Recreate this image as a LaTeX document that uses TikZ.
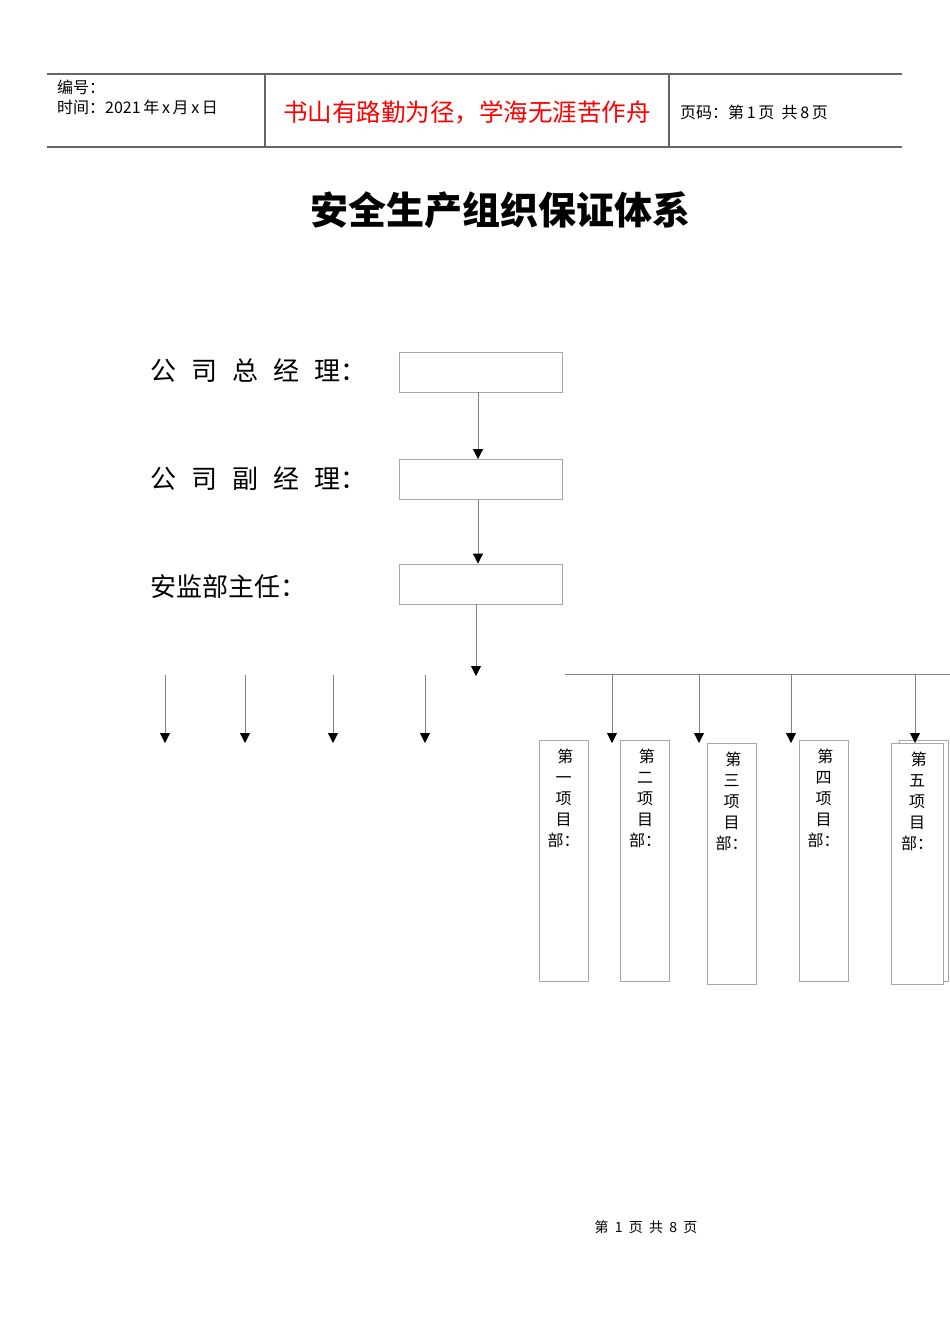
\documentclass[tikz,border=0pt]{standalone}
\usepackage{fontspec}
\setmainfont{Liberation Sans}
\newfontfamily\cjk{Noto Sans CJK SC}
\usetikzlibrary{positioning,arrows.meta}
\newcommand\gap{\hspace{15pt}}
\tikzset{
  rule/.style={draw=gray!80!black,line width=1.2pt},
  box/.style={draw=gray!70,line width=0.8pt,minimum width=163pt,minimum height=40pt,inner sep=0pt},
  pbox/.style={draw=gray!70,line width=0.8pt,fill=white,minimum width=49pt,minimum height=241pt,inner sep=0pt},
  lab/.style={anchor=west,font=\cjk\fontsize{26}{26}\selectfont,inner sep=0pt},
  vtext/.style={anchor=north,align=center,font=\cjk\fontsize{16}{21}\selectfont,inner sep=0pt},
  link/.style={draw=gray,line width=0.8pt},
  down/.style={link,-{Triangle[width=10pt,length=10pt,black]}}
}
\begin{document}
\begin{tikzpicture}[x=1pt,y=-1pt]
	\useasboundingbox (0,0) rectangle (950,1322);
	%header
	\draw[rule] (47,74)--(902,74);
	\draw[rule] (47,147)--(902,147);
	\draw[rule] (265,74)--(265,147);
	\draw[rule] (669,74)--(669,147);
	\node[anchor=west,font=\cjk\fontsize{16}{16}\selectfont,inner sep=0pt] (num) at (57,87) {编号：};
	\node[anchor=west,font=\cjk\fontsize{16}{16}\selectfont,inner sep=0pt] (time) at (57,107) {时间：2021\,年\,x\,月\,x\,日};
	\node[font=\cjk\fontsize{24.5}{24.5}\selectfont,text=red,inner sep=0pt] (motto) at (467,112) {书山有路勤为径，学海无涯苦作舟};
	\node[anchor=west,font=\cjk\fontsize{16}{16}\selectfont,inner sep=0pt] (page) at (680,112) {页码：第\,1\,页\ \ 共\,8\,页};
	
	%title
	\node[font=\cjk\bfseries\fontsize{38}{38}\selectfont,inner sep=0pt] (title) at (500,210) {安全生产组织保证体系};
	
	%levels
	\node[lab] (gm) at (150,371) {公\gap 司\gap 总\gap 经\gap 理：};
	\node[lab] (dgm) at (150,479) {公\gap 司\gap 副\gap 经\gap 理：};
	\node[lab] (sup) at (150,587) {安监部主任：};
	\node[box] (gmbox) at (480.5,372) {};
	\node[box] (dgmbox) at (480.5,479.5) {};
	\node[box] (supbox) at (480.5,584) {};
	\draw[down] (gmbox.south -| 478,0) -- (dgmbox.north -| 478,0);
	\draw[down] (dgmbox.south -| 478,0) -- (supbox.north -| 478,0);
	\coordinate (split) at (476,676);
	\draw[down] (supbox.south -| split) -- (split);
	
	%branches
	\coordinate (busL) at (565,674);
	\coordinate (busR) at (950,674);
	\draw[link] (busL) -- (busR);
	\foreach \x in {165,245,333,425}
		\draw[down] (\x,675) -- (\x,743);
	
	%project boxes
	\node[pbox] at (924,861) {};
	\node[pbox] (p1) at (563.5,860.5) {};
	\node[pbox] (p2) at (645,860.5) {};
	\node[pbox] (p3) at (731.5,863.5) {};
	\node[pbox] (p4) at (823.5,860.5) {};
	\node[pbox,minimum width=52pt] (p5) at (917,863.5) {};
	\foreach \x in {612,699,791,915}
		\draw[down] (busL -| \x,0) -- (\x,743);
	\node[vtext] at ([yshift=-9pt]p1.north) {\ 第\\一\\项\\目\\部：};
	\node[vtext] at ([yshift=-9pt]p2.north) {\ 第\\二\\项\\目\\部：};
	\node[vtext] at ([yshift=-9pt]p3.north) {\ 第\\三\\项\\目\\部：};
	\node[vtext] at ([yshift=-9pt]p4.north) {\ 第\\四\\项\\目\\部：};
	\node[vtext] at ([yshift=-9pt]p5.north) {\ 第\\五\\项\\目\\部：};
	
	%footer
	\node[font=\cjk\fontsize{14}{14}\selectfont,inner sep=0pt] (foot) at (646,1227) {第\ \ 1\ \ 页\ \ 共\ \ 8\ \ 页};
\end{tikzpicture}
\end{document}
